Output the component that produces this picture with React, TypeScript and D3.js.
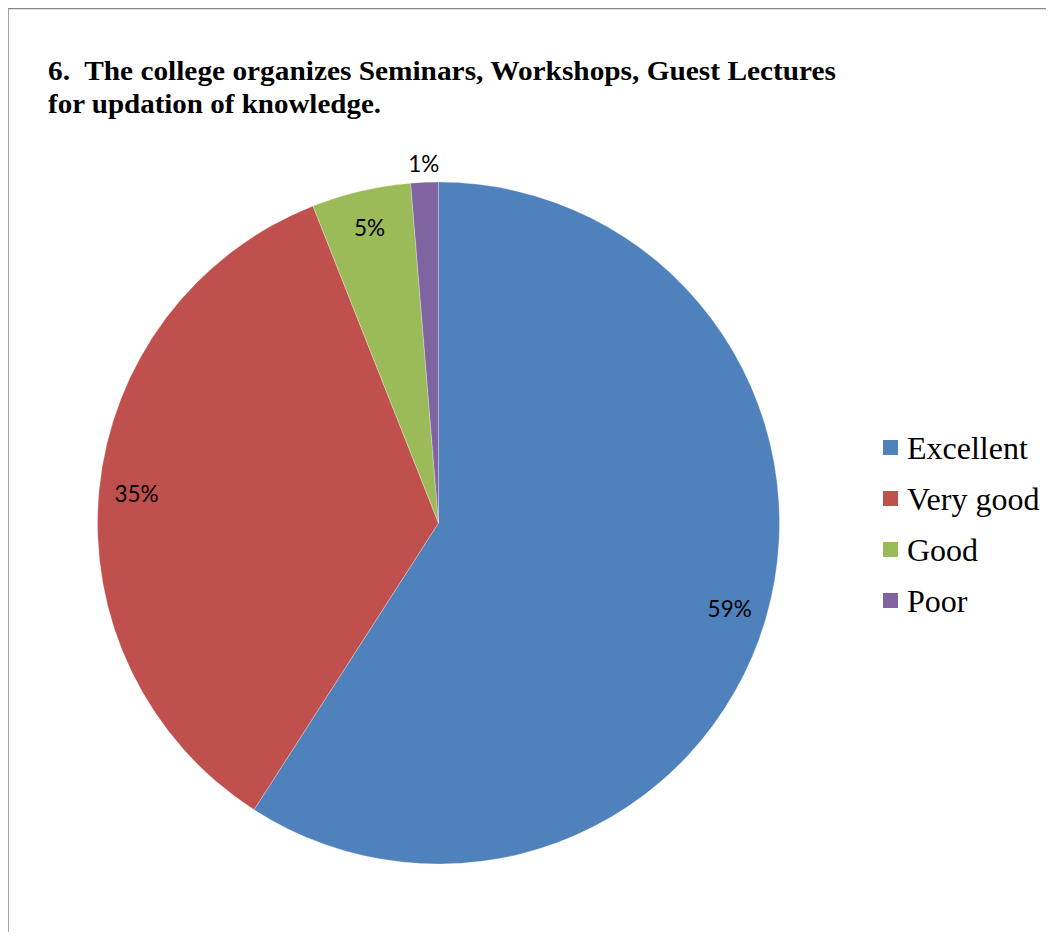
import * as d3 from "d3";

const categories = ["Excellent", "Very good", "Good", "Poor"];
const values = [59.1, 34.9, 4.7, 1.3];
const labels = ["59%", "35%", "5%", "1%"];
const colors = ["#4F81BD", "#C0504D", "#9BBB59", "#8064A2"];

const titleLines = [
    "6.  The college organizes Seminars, Workshops, Guest Lectures",
    "for updation of knowledge.",
];
const titleWidths = [788, 333];

const WIDTH = 1054;
const HEIGHT = 940;
const CX = 438.5;
const CY = 523;
const RADIUS = 341;

export default function App() {
    const pie = d3.pie<number>().sort(null).value((d) => d);
    const arcs = pie(values);
    const arcGen = d3.arc<d3.PieArcDatum<number>>().innerRadius(0).outerRadius(RADIUS);

    // labels: inside for big slices, just outside the rim for the tiny one
    const labelArc = d3.arc<d3.PieArcDatum<number>>().innerRadius(RADIUS * 0.89).outerRadius(RADIUS * 0.89);
    const outerArc = d3.arc<d3.PieArcDatum<number>>().innerRadius(RADIUS + 19).outerRadius(RADIUS + 19);

    const legendY = d3.scalePoint<string>().domain(categories).range([447, 600]);

    return (
        <div style={{ margin: "-8px" }}>
            <svg width={WIDTH} height={HEIGHT} style={{ display: "block" }}>
                <rect x={0} y={0} width={WIDTH} height={HEIGHT} fill="white" />
                <line x1={8} y1={8.5} x2={WIDTH} y2={8.5} stroke="#888" strokeWidth={1.5} />
                <line x1={8} y1={8} x2={8} y2={HEIGHT} stroke="#888" strokeWidth={1.5} />

                <g fontFamily="'Liberation Serif', 'Times New Roman', serif" fontWeight="bold" fontSize={26.5} fill="#000">
                    {titleLines.map((t, i) => (
                        <text
                            key={i}
                            x={48}
                            y={80 + i * 33}
                            xmlSpace="preserve"
                            textLength={titleWidths[i]}
                            lengthAdjust="spacingAndGlyphs"
                        >
                            {t}
                        </text>
                    ))}
                </g>

                <g transform={`translate(${CX},${CY})`}>
                    {arcs.map((a, i) => (
                        <path key={i} d={arcGen(a) ?? ""} fill={colors[i]} stroke="#ffffff" strokeOpacity={0.35} strokeWidth={0.8} />
                    ))}
                    {arcs.map((a, i) => {
                        const [x, y] = a.data < 3 ? outerArc.centroid(a) : labelArc.centroid(a);
                        return (
                            <text
                                key={`l${i}`}
                                x={x}
                                y={y}
                                textAnchor="middle"
                                dominantBaseline="central"
                                fontFamily="Lato, 'Open Sans', sans-serif"
                                fontSize={22.5}
                                fill="#000"
                            >
                                {labels[i]}
                            </text>
                        );
                    })}
                </g>

                <g fontFamily="'Liberation Serif', 'Times New Roman', serif" fontSize={32} fill="#000">
                    {categories.map((c, i) => (
                        <g key={c} transform={`translate(0,${legendY(c)})`}>
                            <rect x={883} y={-7} width={15} height={15} fill={colors[i]} />
                            <text x={907} y={1} dominantBaseline="central">{c}</text>
                        </g>
                    ))}
                </g>
            </svg>
        </div>
    );
}
